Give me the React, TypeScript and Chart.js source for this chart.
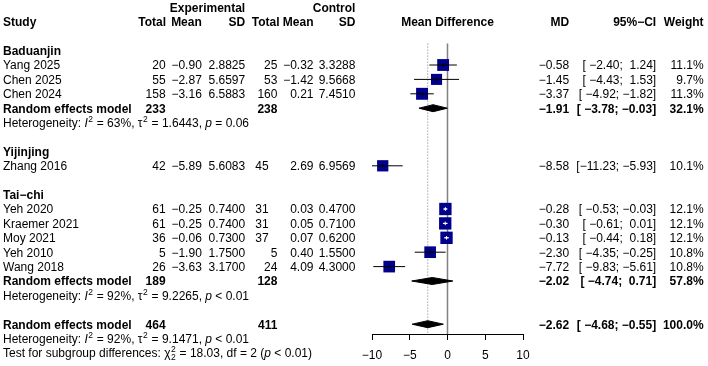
import React, { useEffect, useRef } from "react";
import { Chart, registerables } from "chart.js";

Chart.register(...registerables);

const MINUS = "\u2212";
const FONT = '"Liberation Sans", Arial, Helvetica, sans-serif';

// ---------------- data ----------------
const subgroupNames = ["Baduanjin", "Yijinjing", "Tai-chi"];
const studyNames = ["Yang 2025", "Chen 2025", "Chen 2024", "Zhang 2016", "Yeh 2020", "Kraemer 2021", "Moy 2021", "Yeh 2010", "Wang 2018"];
const studyGroup = [0, 0, 0, 1, 2, 2, 2, 2, 2];
const expTotal = [20, 55, 158, 42, 61, 61, 36, 5, 26];
const expMean = [-0.9, -2.87, -3.16, -5.89, -0.25, -0.25, -0.06, -1.9, -3.63];
const expSD = [2.8825, 5.6597, 6.5883, 5.6083, 0.74, 0.74, 0.73, 1.75, 3.17];
const ctrlTotal = [25, 53, 160, 45, 31, 31, 37, 5, 24];
const ctrlMean = [-0.32, -1.42, 0.21, 2.69, 0.03, 0.05, 0.07, 0.4, 4.09];
const ctrlSD = [3.3288, 9.5668, 7.451, 6.9569, 0.47, 0.71, 0.62, 1.55, 4.3];
const studyMD = [-0.58, -1.45, -3.37, -8.58, -0.28, -0.3, -0.13, -2.3, -7.72];
const studyLow = [-2.4, -4.43, -4.92, -11.23, -0.53, -0.61, -0.44, -4.35, -9.83];
const studyHigh = [1.24, 1.53, -1.82, -5.93, -0.03, 0.01, 0.18, -0.25, -5.61];
const studyWeight = [11.1, 9.7, 11.3, 10.1, 12.1, 12.1, 12.1, 10.8, 10.8];
// studies whose control total is printed slightly left in the source figure
const ctrlTotalNarrow = ["Zhang 2016", "Yeh 2020", "Kraemer 2021", "Moy 2021"];

const subExpTotal = [233, null, 189];
const subCtrlTotal = [238, null, 128];
const subMD = [-1.91, null, -2.02];
const subLow = [-3.78, null, -4.74];
const subHigh = [-0.03, null, 0.71];
const subWeight = [32.1, null, 57.8];
const subI2 = [63, null, 92];
const subTau2 = ["1.6443", null, "9.2265"];
const subP = ["= 0.06", null, "< 0.01"];

const overallExpTotal = 464;
const overallCtrlTotal = 411;
const overallMD = -2.62;
const overallLow = -4.68;
const overallHigh = -0.55;
const overallWeight = 100.0;
const overallI2 = 92;
const overallTau2 = "9.1471";
const overallP = "< 0.01";
const testChi2 = "18.03";
const testDf = 2;
const testP = "< 0.01";

const xTicks = [-10, -5, 0, 5, 10];

// ---------------- layout constants ----------------
const W = 708;
const H = 366;
const ROW0 = 7.4;
const ROW_H = 14.4;
const AXIS_Y = 334;
const PLOT_LEFT = 372;
const PLOT_RIGHT = 523;
const PX_PER_UNIT = (PLOT_RIGHT - PLOT_LEFT) / 20;
const FS = 12;
const BASE_OFF = 4.3;

const X_STUDY = 3;
const X_EXP_TOTAL = 165.6;
const X_EXP_TOTAL_H = 166;
const X_EXP_MEAN = 201.8;
const X_EXP_SD = 245.2;
const X_CTRL_TOTAL = 277.4;
const X_CTRL_TOTAL_NARROW = 268.6;
const X_CTRL_TOTAL_H = 279.5;
const X_CTRL_MEAN = 313.5;
const X_CTRL_SD = 355.4;
const X_MD = 569.2;
const X_CI = 656.2;
const X_W = 703.6;

const m = (s: string) => s.replace(/-/g, MINUS);
const fmt = (v: number, d: number) => (v < 0 ? MINUS : "") + Math.abs(v).toFixed(d);
const padL = (s: string, w: number) => " ".repeat(Math.max(0, w - s.length)) + s;

// ---------------- rows ----------------
type Row = { kind: string; idx: number; row: number };
const rows: Row[] = [];
{
  let r = 3;
  subgroupNames.forEach((_, gi) => {
    rows.push({ kind: "group", idx: gi, row: r++ });
    studyGroup.forEach((g, si) => {
      if (g === gi) rows.push({ kind: "study", idx: si, row: r++ });
    });
    if (subMD[gi] !== null) {
      rows.push({ kind: "pooled", idx: gi, row: r++ });
      rows.push({ kind: "het", idx: gi, row: r++ });
    }
    r++;
  });
  rows.push({ kind: "overall", idx: 0, row: r++ });
  rows.push({ kind: "overallHet", idx: 0, row: r++ });
  rows.push({ kind: "test", idx: 0, row: r++ });
}

const allLow = [...studyLow, ...(subLow.filter((v) => v !== null) as number[]), overallLow];
const allHigh = [...studyHigh, ...(subHigh.filter((v) => v !== null) as number[]), overallHigh];
const lowW = Math.max(...allLow.map((v) => fmt(v, 2).length));
const highW = Math.max(...allHigh.map((v) => fmt(v, 2).length));
const ciText = (l: number, h: number) => "[" + padL(fmt(l, 2), lowW) + "; " + padL(fmt(h, 2), highW) + "]";

const Y_MIN = -ROW0 / ROW_H;
const Y_MAX = (AXIS_Y - ROW0) / ROW_H;
const DIAMOND_H = 3.5 / ROW_H;

type Seg = { t?: string; it?: boolean; sup?: string; sub?: string };

const textPlugin = {
  id: "forestText",
  afterDraw(chart: any) {
    const ctx: CanvasRenderingContext2D = chart.ctx;
    const ys = chart.scales.y;
    const Y = (row: number) => ys.getPixelForValue(row) + BASE_OFF;
    ctx.save();
    ctx.fillStyle = "#000";
    ctx.textBaseline = "alphabetic";
    const put = (s: string, x: number, row: number, align: CanvasTextAlign, bold = false) => {
      ctx.font = `${bold ? "bold " : ""}${FS}px ${FONT}`;
      ctx.textAlign = align;
      ctx.fillText(s, x, Y(row));
    };
    const rich = (segs: Seg[], x: number, row: number) => {
      let cx = x;
      const by = Y(row);
      ctx.textAlign = "left";
      for (const s of segs) {
        if (s.t !== undefined) {
          ctx.font = `${s.it ? "italic " : ""}${FS}px ${FONT}`;
          ctx.fillText(s.t, cx, by);
          cx += ctx.measureText(s.t).width;
        } else {
          ctx.font = `8.5px ${FONT}`;
          let w = 0;
          if (s.sup) {
            ctx.fillText(s.sup, cx + 0.5, by - 5);
            w = Math.max(w, ctx.measureText(s.sup).width);
          }
          if (s.sub) {
            ctx.fillText(s.sub, cx + 0.5, by + 3);
            w = Math.max(w, ctx.measureText(s.sub).width);
          }
          cx += w + 1;
        }
      }
    };
    const x0 = X_STUDY;
    const het = (i2: number, tau2: string, p: string, row: number) =>
      rich(
        [
          { t: "Heterogeneity: " },
          { t: "I", it: true },
          { sup: "2" },
          { t: ` = ${i2}%, ` },
          { t: "\u03c4" },
          { sup: "2" },
          { t: ` = ${tau2}, ` },
          { t: "p", it: true },
          { t: " " + p },
        ],
        x0,
        row
      );

    // headers
    put("Experimental", X_EXP_SD, 0, "right", true);
    put("Control", X_CTRL_SD, 0, "right", true);
    put("Study", x0, 1, "left", true);
    put("Total", X_EXP_TOTAL_H, 1, "right", true);
    put("Mean", X_EXP_MEAN, 1, "right", true);
    put("SD", X_EXP_SD, 1, "right", true);
    put("Total", X_CTRL_TOTAL_H, 1, "right", true);
    put("Mean", X_CTRL_MEAN, 1, "right", true);
    put("SD", X_CTRL_SD, 1, "right", true);
    put("Mean Difference", (chart.chartArea.left + chart.chartArea.right) / 2, 1, "center", true);
    put("MD", X_MD, 1, "right", true);
    put(m("95%-CI"), X_CI, 1, "right", true);
    put("Weight", X_W, 1, "right", true);

    for (const r of rows) {
      const i = r.idx;
      if (r.kind === "group") {
        put(m(subgroupNames[i]), x0, r.row, "left", true);
      } else if (r.kind === "study") {
        put(studyNames[i], x0, r.row, "left");
        put(String(expTotal[i]), X_EXP_TOTAL, r.row, "right");
        put(fmt(expMean[i], 2), X_EXP_MEAN, r.row, "right");
        put(fmt(expSD[i], 4), X_EXP_SD, r.row, "right");
        put(String(ctrlTotal[i]), ctrlTotalNarrow.includes(studyNames[i]) ? X_CTRL_TOTAL_NARROW : X_CTRL_TOTAL, r.row, "right");
        put(fmt(ctrlMean[i], 2), X_CTRL_MEAN, r.row, "right");
        put(fmt(ctrlSD[i], 4), X_CTRL_SD, r.row, "right");
        put(fmt(studyMD[i], 2), X_MD, r.row, "right");
        put(ciText(studyLow[i], studyHigh[i]), X_CI, r.row, "right");
        put(studyWeight[i].toFixed(1) + "%", X_W, r.row, "right");
      } else if (r.kind === "pooled") {
        put("Random effects model", x0, r.row, "left", true);
        put(String(subExpTotal[i]), X_EXP_TOTAL, r.row, "right", true);
        put(String(subCtrlTotal[i]), X_CTRL_TOTAL, r.row, "right", true);
        put(fmt(subMD[i] as number, 2), X_MD, r.row, "right", true);
        put(ciText(subLow[i] as number, subHigh[i] as number), X_CI, r.row, "right", true);
        put((subWeight[i] as number).toFixed(1) + "%", X_W, r.row, "right", true);
      } else if (r.kind === "het") {
        het(subI2[i] as number, subTau2[i] as string, subP[i] as string, r.row);
      } else if (r.kind === "overall") {
        put("Random effects model", x0, r.row, "left", true);
        put(String(overallExpTotal), X_EXP_TOTAL, r.row, "right", true);
        put(String(overallCtrlTotal), X_CTRL_TOTAL, r.row, "right", true);
        put(fmt(overallMD, 2), X_MD, r.row, "right", true);
        put(ciText(overallLow, overallHigh), X_CI, r.row, "right", true);
        put(overallWeight.toFixed(1) + "%", X_W, r.row, "right", true);
      } else if (r.kind === "overallHet") {
        het(overallI2, overallTau2, overallP, r.row);
      } else if (r.kind === "test") {
        rich(
          [
            { t: "Test for subgroup differences: " },
            { t: "\u03c7" },
            { sup: "2", sub: String(testDf) },
            { t: ` = ${testChi2}, df = ${testDf} (` },
            { t: "p", it: true },
            { t: ` ${testP})` },
          ],
          x0,
          r.row
        );
      }
    }
    ctx.restore();
  },
};

function buildDatasets() {
  const ds: any[] = [];
  // reference lines
  ds.push({
    data: [{ x: 0, y: 2.5 }, { x: 0, y: Y_MAX }],
    showLine: true, borderColor: "#808080", borderWidth: 1.5, pointRadius: 0, order: 30,
  });
  ds.push({
    data: [{ x: overallMD, y: 2.5 }, { x: overallMD, y: Y_MAX }],
    showLine: true, borderColor: "#a8a8a8", borderWidth: 1, borderDash: [1.5, 1.5], pointRadius: 0, order: 31,
  });
  const studyRows = rows.filter((r) => r.kind === "study");
  const side = (w: number) => 3.55 * Math.sqrt(w);
  // squares
  ds.push({
    data: studyRows.map((r) => ({ x: studyMD[r.idx], y: r.row })),
    pointStyle: "rect",
    pointRadius: studyRows.map((r) => side(studyWeight[r.idx]) / Math.SQRT2),
    pointBackgroundColor: "#00008B",
    pointBorderColor: "#00008B",
    pointBorderWidth: 0,
    showLine: false,
    order: 10,
  });
  // CI lines and centre marks
  studyRows.forEach((r) => {
    const i = r.idx;
    const inside = (studyHigh[i] - studyLow[i]) * PX_PER_UNIT < side(studyWeight[i]);
    const col = inside ? "#ffffff" : "#000000";
    ds.push({
      data: [{ x: studyLow[i], y: r.row }, { x: studyHigh[i], y: r.row }],
      showLine: true, borderColor: col, borderWidth: 1, pointRadius: 0, order: 5,
    });
    ds.push({
      data: [{ x: studyMD[i], y: r.row }],
      pointStyle: "cross", pointRadius: 1.8, pointBorderColor: col, pointBorderWidth: 1, showLine: false, order: 4,
    });
  });
  // diamonds
  const diamond = (mdv: number, l: number, h: number, row: number) => ({
    data: [
      { x: l, y: row },
      { x: mdv, y: row - DIAMOND_H },
      { x: h, y: row },
      { x: mdv, y: row + DIAMOND_H },
      { x: l, y: row },
    ],
    showLine: true, fill: "shape", backgroundColor: "#000", borderColor: "#000", borderWidth: 1, pointRadius: 0, order: 3,
  });
  rows.forEach((r) => {
    if (r.kind === "pooled") ds.push(diamond(subMD[r.idx] as number, subLow[r.idx] as number, subHigh[r.idx] as number, r.row));
    if (r.kind === "overall") ds.push(diamond(overallMD, overallLow, overallHigh, r.row));
  });
  return ds;
}

export default function App() {
  const ref = useRef<HTMLCanvasElement | null>(null);
  useEffect(() => {
    if (!ref.current) return;
    const chart = new Chart(ref.current, {
      type: "scatter",
      data: { datasets: buildDatasets() },
      options: {
        responsive: false,
        animation: false,
        devicePixelRatio: 1,
        events: [],
        layout: { autoPadding: false, padding: { left: PLOT_LEFT, right: W - PLOT_RIGHT, top: 0, bottom: 0 } },
        plugins: { legend: { display: false }, tooltip: { enabled: false } },
        scales: {
          x: {
            type: "linear",
            position: "bottom",
            min: -10,
            max: 10,
            afterBuildTicks: (s: any) => {
              s.ticks = xTicks.map((v) => ({ value: v }));
            },
            afterFit: (s: any) => {
              s.height = H - AXIS_Y;
            },
            ticks: {
              autoSkip: false,
              maxRotation: 0,
              padding: 8,
              color: "#000",
              font: { family: FONT, size: 12 },
              callback: (v: any) => fmt(Number(v), 0),
            },
            grid: { drawOnChartArea: false, drawTicks: true, tickLength: 6, color: "#000", lineWidth: 1 },
            border: { display: true, color: "#000", width: 1 },
          },
          y: { type: "linear", display: false, reverse: true, min: Y_MIN, max: Y_MAX },
        },
      } as any,
      plugins: [textPlugin],
    });
    return () => chart.destroy();
  }, []);
  return (
    <div style={{ position: "fixed", left: 0, top: 0, width: W, height: H, background: "#fff" }}>
      <canvas ref={ref} width={W} height={H} style={{ display: "block" }} />
    </div>
  );
}
